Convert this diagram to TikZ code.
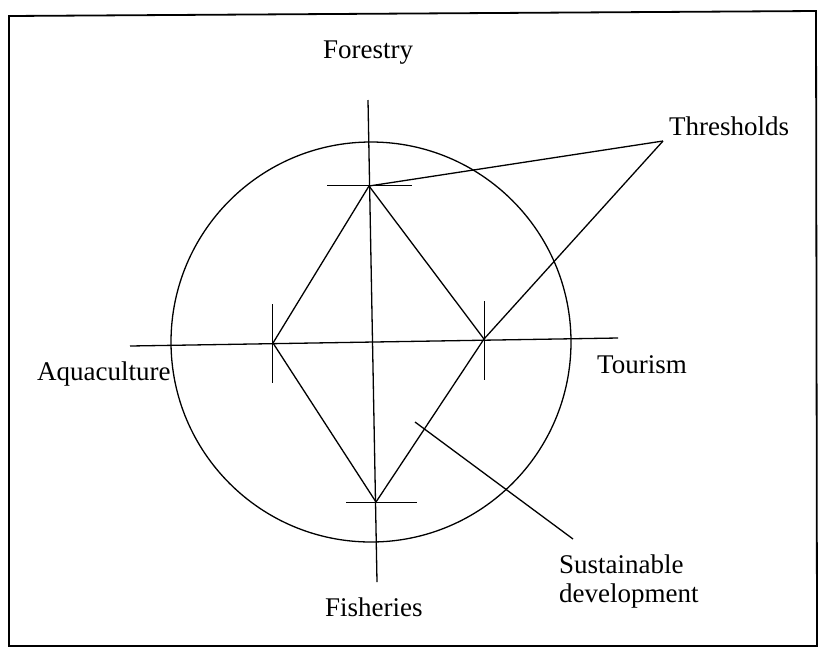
\documentclass[tikz,border=0pt]{standalone}
\usepackage{fontspec}
\setmainfont{Liberation Serif}
\usepackage{tikz}
\usetikzlibrary{positioning}

\begin{document}
\begin{tikzpicture}[
    x=1pt, y=-1pt,
    sector/.style={
        font=\fontsize{27}{29}\selectfont,
        inner sep=0pt,
        anchor=base west,
        align=left
    },
    axis/.style={line width=1.3pt},
    tick/.style={line width=0.8pt},
    edge/.style={line width=1.3pt},
    leader/.style={line width=1.3pt},
    frame/.style={line width=1.8pt}
]

\useasboundingbox (0,0) rectangle (821,649);

% outer frame
\draw[frame] (9,16) -- (816,11) -- (817,646) -- (9,646) -- cycle;

% circle of sustainable development
\draw[axis] (371,342) circle (200);

% corner points of the diamond
\coordinate (forest) at (369,186);
\coordinate (aqua) at (273,343);
\coordinate (tour) at (484,339);
\coordinate (fish) at (376,502);

% axis ends
\coordinate (vtop) at (368,100);
\coordinate (vbot) at (377,582);
\coordinate (hleft) at (130,346);
\coordinate (hright) at (618,338);

\draw[axis] (vtop) -- (vbot);
\draw[axis] (hleft) -- (hright);

% thresholds on each axis
\draw[tick] (327,185) -- (412,185);
\draw[tick] (272,304) -- (272,383);
\draw[tick] (484,301) -- (484,380);
\draw[tick] (346,502) -- (417,502);

\draw[edge] (forest) -- (tour) -- (fish) -- (aqua) -- cycle;

% labels
\node[sector] (forestry) at (323,58) {Forestry};
\node[sector] (aquaculture) at (37,380) {Aquaculture};
\node[sector] (tourism) at (597,373) {Tourism};
\node[sector] (fisheries) at (325,616) {Fisheries};
\node[sector] (thresholds) at (669,135) {Thresholds};
\node[sector] (sustain) at (559,602) {Sustainable\\development};

% leader lines
\coordinate (thr) at (663,141);
\coordinate (sdin) at (415,422);
\coordinate (sdout) at (573,539);

\draw[leader] (forest) -- (thr);
\draw[leader] (tour) -- (thr);
\draw[leader] (sdin) -- (sdout);

\end{tikzpicture}
\end{document}
